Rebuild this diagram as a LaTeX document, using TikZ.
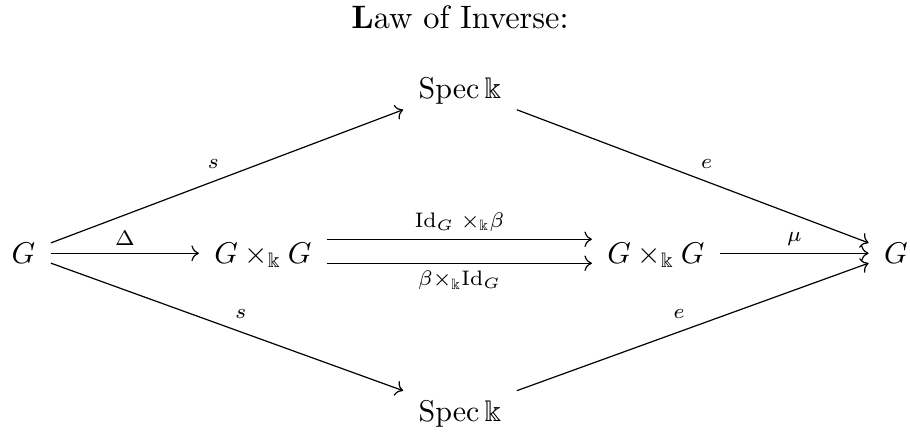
\documentclass[tikz,border=0pt]{standalone}
\usepackage{amsmath,amssymb}
\usetikzlibrary{arrows.meta}
\begin{document}
\begin{tikzpicture}[x=0.3333pt,y=-0.3333pt,
  obj/.style={inner sep=5pt, text height=7pt, text depth=0.5pt, anchor=base},
  arr/.style={-{Computer Modern Rightarrow}, line width=0.4pt},
  lab/.style={inner sep=2.5pt}]
\useasboundingbox (0,0) rectangle (910,433);
\node[anchor=base, font=\fontsize{10.8}{13}\selectfont] (title) at (460,28) {\textbf{L}aw of Inverse:};
\node[obj] (G1) at (23.5,263) {$G$};
\node[obj] (P1) at (263,263) {$G\times_{\Bbbk}G$};
\node[obj] (P2) at (656,263) {$G\times_{\Bbbk}G$};
\node[obj] (G2) at (896,263) {$G$};
\node[obj] (S1) at (460,98) {$\operatorname{Spec}\Bbbk$};
\node[obj] (S2) at (460,421) {$\operatorname{Spec}\Bbbk$};
\draw[arr] (G1) -- node[lab, auto] {$\scriptstyle s$} (S1);
\draw[arr] (G1) -- node[lab, auto] {$\scriptstyle s$} (S2);
\draw[arr] (G1) -- node[lab, auto] {$\scriptstyle \Delta$} (P1);
\draw[arr] ([yshift=4.67pt]P1.east) -- node[lab, auto] {$\scriptstyle \mathrm{Id}_G\;\times_{\Bbbk}\beta$} ([yshift=4.67pt]P2.west);
\draw[arr] ([yshift=-3.33pt]P1.east) -- node[lab, auto, swap] {$\scriptstyle \beta\times_{\Bbbk}\mathrm{Id}_G$} ([yshift=-3.33pt]P2.west);
\draw[arr] (P2) -- node[lab, auto] {$\scriptstyle \mu$} (G2);
\draw[arr] (S1) -- node[lab, auto] {$\scriptstyle e$} (G2);
\draw[arr] (S2) -- node[lab, auto] {$\scriptstyle e$} (G2);
\end{tikzpicture}
\end{document}
